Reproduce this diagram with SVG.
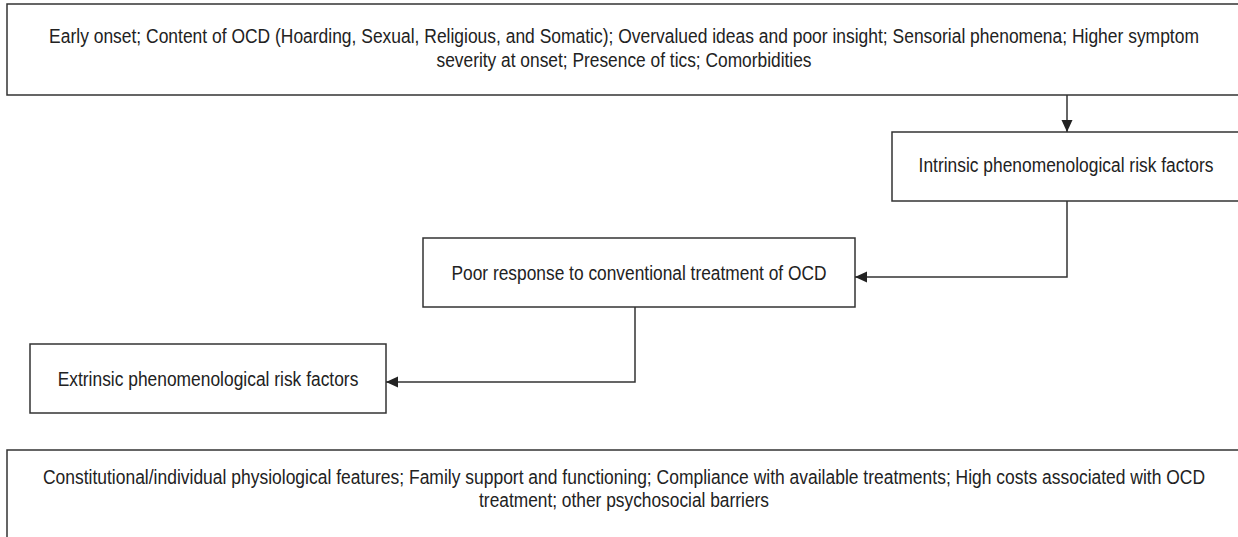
<svg xmlns="http://www.w3.org/2000/svg" width="1238" height="537" viewBox="0 0 1238 537">
<style>
.box{fill:#fff;stroke:#333;stroke-width:1.5}
.t{font-family:"Liberation Sans",Arial,sans-serif;font-size:21px;fill:#222;text-anchor:middle}
.c{fill:none;stroke:#333;stroke-width:1.5}
</style>
<defs>
<marker id="ah" viewBox="0 0 12 12" refX="12" refY="6" markerWidth="12" markerHeight="12" markerUnits="userSpaceOnUse" orient="auto">
<path d="M0,0.5 L12,6 L0,11.5 z" fill="#222"/>
</marker>
</defs>
<rect width="1238" height="537" fill="#fff"/>
<g id="intrinsic-features">
<path class="box" d="M1238,4 H7 V95 H1238"/>
<text class="t" transform="translate(624,43) scale(0.826,1)" textLength="1392" lengthAdjust="spacingAndGlyphs">Early onset; Content of OCD (Hoarding, Sexual, Religious, and Somatic); Overvalued ideas and poor insight; Sensorial phenomena; Higher symptom</text>
<text class="t" transform="translate(624,67) scale(0.826,1)" textLength="454" lengthAdjust="spacingAndGlyphs">severity at onset; Presence of tics; Comorbidities</text>
</g>
<g id="intrinsic">
<path class="box" d="M1238,132 H892 V201 H1238"/>
<text class="t" transform="translate(1066,172) scale(0.826,1)" textLength="357" lengthAdjust="spacingAndGlyphs">Intrinsic phenomenological risk factors</text>
</g>
<g id="poor-response">
<rect class="box" x="423" y="238" width="432" height="69"/>
<text class="t" transform="translate(639,280) scale(0.826,1)" textLength="454" lengthAdjust="spacingAndGlyphs">Poor response to conventional treatment of OCD</text>
</g>
<g id="extrinsic">
<rect class="box" x="30" y="344" width="356" height="69"/>
<text class="t" transform="translate(208,386) scale(0.826,1)" textLength="364" lengthAdjust="spacingAndGlyphs">Extrinsic phenomenological risk factors</text>
</g>
<g id="extrinsic-features">
<path class="box" d="M1238,450 H7 V537"/>
<text class="t" transform="translate(624,484) scale(0.826,1)" textLength="1407" lengthAdjust="spacingAndGlyphs">Constitutional/individual physiological features; Family support and functioning; Compliance with available treatments; High costs associated with OCD</text>
<text class="t" transform="translate(624,507) scale(0.826,1)" textLength="351" lengthAdjust="spacingAndGlyphs">treatment; other psychosocial barriers</text>
</g>
<g id="connectors">
<path class="c" d="M1067,95 V132" marker-end="url(#ah)"/>
<path class="c" d="M1067,201 V277 H855" marker-end="url(#ah)"/>
<path class="c" d="M635,307 V382 H386" marker-end="url(#ah)"/>
</g>
</svg>
